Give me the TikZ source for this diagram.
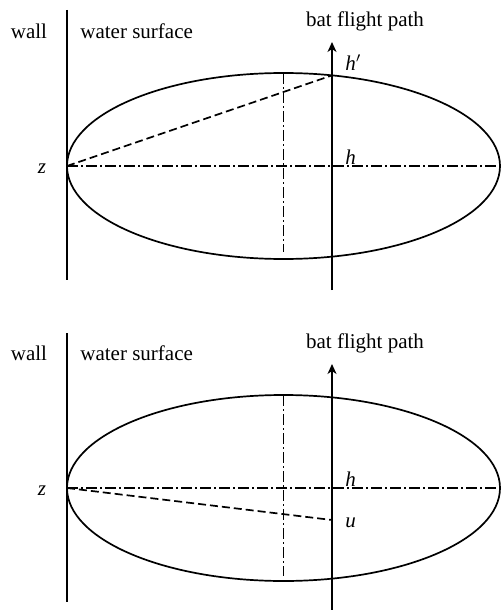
\documentclass[tikz,border=0pt]{standalone}
\usepackage{fontspec}
\setmainfont{Liberation Serif}
\usetikzlibrary{arrows.meta}
\begin{document}
\begin{tikzpicture}[x=0.5pt,y=-0.5pt,
  solidline/.style={line width=0.85pt},
  dashdot/.style={line width=0.85pt, dash pattern=on 5.5pt off 1.6pt on 0.8pt off 1.6pt},
  dashline/.style={line width=0.85pt, dash pattern=on 4pt off 2pt},
  lbl/.style={font=\fontsize{10.5}{12}\selectfont, inner sep=0pt},
  patharrow/.style={line width=0.85pt, -{Stealth[length=5pt,width=4.5pt,inset=1.5pt]}}
]
\useasboundingbox (0,0) rectangle (503,610);
% ---------- upper panel ----------
\begin{scope}
  \coordinate (wT1) at (67,10);   \coordinate (wB1) at (67,280);
  \coordinate (z1)  at (67,166);  \coordinate (r1)  at (500,166);
  \coordinate (c1)  at (283.5,166);
  \coordinate (vT1) at (283.5,73); \coordinate (vB1) at (283.5,252);
  \coordinate (pB1) at (332,290); \coordinate (pT1) at (332,42);
  \coordinate (hp1) at (332,75.4);
  \draw[solidline] (c1) ellipse [x radius=108.25pt, y radius=46.5pt];
  \draw[solidline] (wT1) -- (wB1);
  \draw[dashdot] (z1) -- (r1);
  \draw[dashdot] (vT1) -- (vB1);
  \draw[dashline] (z1) -- (hp1);
  \draw[patharrow] (pB1) -- (pT1);
  \node[lbl] (wall1) at (29,31) {wall};
  \node[lbl, anchor=west] (water1) at (80,31) {water surface};
  \node[lbl] (bat1) at (365,21) {bat flight path};
  \node[lbl, anchor=west] (hpl1) at (345,63) {\textit{h}$'$};
  \node[lbl, anchor=west] (hl1) at (345,157) {\textit{h}};
  \node[lbl] (zl1) at (42,169) {\textit{z}};
\end{scope}
% ---------- lower panel ----------
\begin{scope}[shift={(0,322)}]
  \coordinate (wT2) at (67,11);   \coordinate (wB2) at (67,280);
  \coordinate (z2)  at (67,166);  \coordinate (r2)  at (500,166);
  \coordinate (c2)  at (283.5,166);
  \coordinate (vT2) at (283.5,73); \coordinate (vB2) at (283.5,254);
  \coordinate (pB2) at (332,292); \coordinate (pT2) at (332,42);
  \coordinate (u2)  at (332,198);
  \draw[solidline] (c2) ellipse [x radius=108.25pt, y radius=46.5pt];
  \draw[solidline] (wT2) -- (wB2);
  \draw[dashdot] (z2) -- (r2);
  \draw[dashdot] (vT2) -- (vB2);
  \draw[dashline] (z2) -- (u2);
  \draw[patharrow] (pB2) -- (pT2);
  \node[lbl] (wall2) at (29,31) {wall};
  \node[lbl, anchor=west] (water2) at (80,31) {water surface};
  \node[lbl] (bat2) at (365,21) {bat flight path};
  \node[lbl, anchor=west] (hl2) at (345,157) {\textit{h}};
  \node[lbl, anchor=west] (ul2) at (345,201) {\textit{u}};
  \node[lbl] (zl2) at (42,169) {\textit{z}};
\end{scope}
\end{tikzpicture}
\end{document}
